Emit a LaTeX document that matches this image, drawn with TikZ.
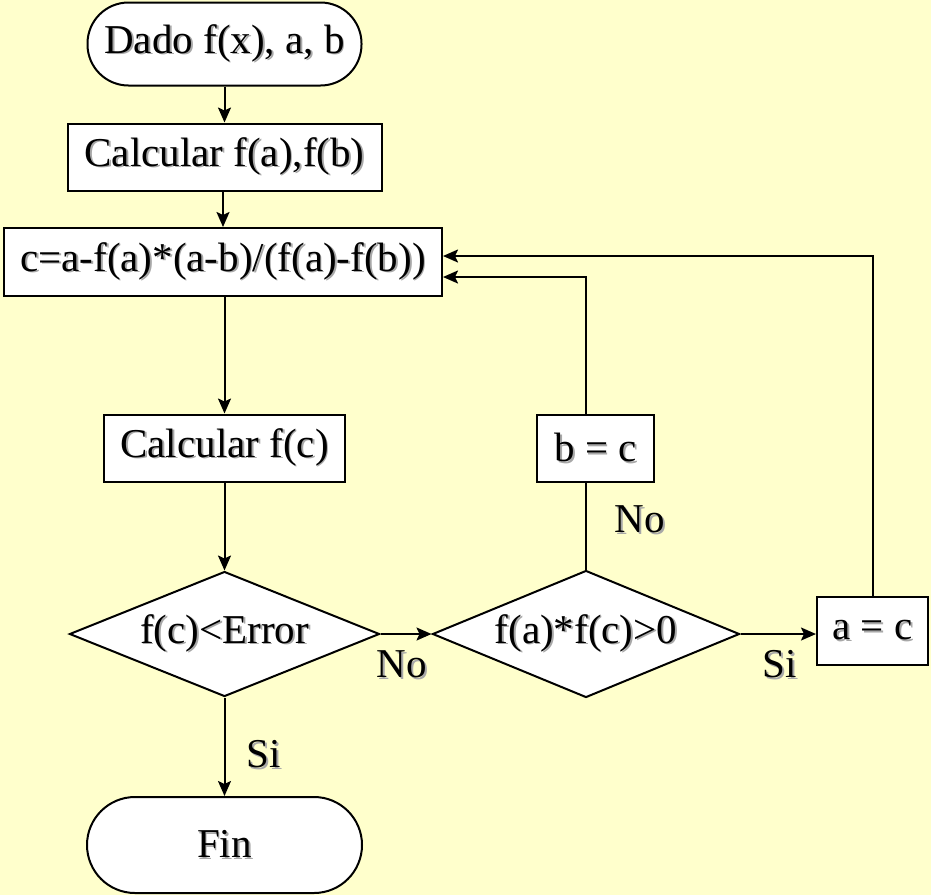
\documentclass[tikz,border=0pt]{standalone}
\usepackage{fontspec}
\setmainfont{Liberation Serif}
\usetikzlibrary{shapes.geometric,arrows.meta}
\definecolor{paper}{HTML}{FFFFCC}
\definecolor{shadowgray}{HTML}{A8A8A8}
% text with a soft drop shadow
\newcommand\shd[1]{\makebox[0pt][l]{\hspace{1.8pt}\raisebox{-1.8pt}{\color{shadowgray}#1}}#1}
\tikzset{
  base/.style={draw=black, line width=2pt, fill=white, inner sep=0pt,
    font=\fontsize{41}{45}\selectfont},
  terminal/.style={base, rounded corners=#1, minimum width=274pt},
  procbox/.style={base, rectangle},
  decision/.style={base, diamond, aspect=2.5},
  flow/.style={line width=2pt, -{Stealth[length=15pt,width=13pt,inset=3pt]}},
  plain/.style={line width=2pt},
  lbl/.style={font=\fontsize{41}{45}\selectfont, inner sep=0pt}
}
\begin{document}
\begin{tikzpicture}[x=1pt,y=-1pt]
  \fill[paper] (0,0) rectangle (931,895);
  \useasboundingbox (0,0) rectangle (931,895);

  % main column
  \node[terminal=41pt, minimum height=83pt] (start) at (224.5,44) {\shd{Dado f(x), a, b}};
  \node[procbox, minimum width=314pt, minimum height=67pt] (calcab) at (224.5,157) {\shd{Calcular f(a),f(b)}};
  \node[procbox, minimum width=438pt, minimum height=68pt] (cbox) at (223,262) {\shd{c=a-f(a)*(a-b)/(f(a)-f(b))}};
  \node[procbox, minimum width=241pt, minimum height=67pt] (calcc) at (224.5,448) {\shd{Calcular f(c)}};
  \node[decision, minimum width=310pt, minimum height=125pt] (d1) at (224.5,634) {\shd{f(c)<Error}};
  \node[terminal=48pt, minimum width=275pt, minimum height=96pt] (fin) at (224.5,845) {\shd{Fin}};

  % second decision and updates
  \node[decision, minimum width=307pt, minimum height=127pt] (d2) at (586,634) {\shd{f(a)*f(c)>0}};
  \node[procbox, minimum width=117pt, minimum height=67pt] (bc) at (595.5,448.5) {\shd{b = c}};
  \node[procbox, minimum width=111pt, minimum height=68pt] (ac) at (872.5,631) {\shd{a = c}};

  % return points on the formula box
  \coordinate (ra) at (873,256);
  \coordinate (rb) at (586,277);

  % connectors
  \draw[flow] (start) -- (calcab);
  \draw[flow] (calcab.south -| cbox.north) -- (cbox.north);
  \draw[flow] (cbox.south -| calcc.north) -- (calcc.north);
  \draw[flow] (calcc) -- (d1);
  \draw[flow] (d1) -- (fin);
  \draw[flow] (d1.east) -- (d2.west);
  \draw[flow] (d2.east) -- (ac.west |- d2.east);
  \draw[plain] (d2.north) -- (d2.north |- bc.south);
  \draw[flow] (d2.north |- bc.north) -- (rb) -- (cbox.east |- rb);
  \draw[flow] (ac.north -| ra) -- (ra) -- (cbox.east |- ra);

  % branch labels
  \node[lbl] (lsi1) at (264,755) {\shd{Si}};
  \node[lbl] (lno1) at (402,665) {\shd{No}};
  \node[lbl] (lsi2) at (780,665) {\shd{Si}};
  \node[lbl] (lno2) at (640,520) {\shd{No}};
\end{tikzpicture}
\end{document}
